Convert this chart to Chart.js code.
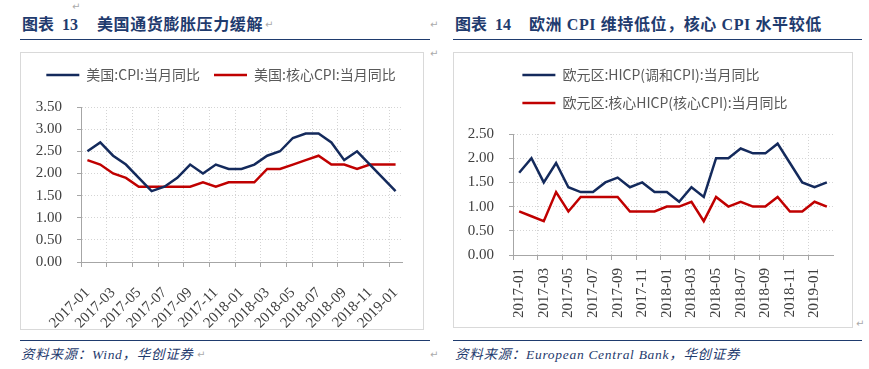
<!DOCTYPE html>
<html>
<head>
<meta charset="utf-8">
<script src="https://cdn.jsdelivr.net/npm/chart.js@4.4.1/dist/chart.umd.min.js"></script>
<style>
  body { margin: 0; width: 869px; height: 369px; background: #fff; position: relative; overflow: hidden; }
  .abs { position: absolute; white-space: nowrap; }
  .hd { font-weight: bold; font-size: 16px; color: #1f3b6e; font-family: "Liberation Serif", "Noto Sans CJK SC", serif; line-height: 20px; }
  .rule { position: absolute; height: 0; border-top: 1.5px solid #1f3b6e; }
  .box { position: absolute; border: 1px solid #d9d9d9; box-sizing: border-box; }
  .src { font-style: italic; font-size: 13.5px; letter-spacing: 0.7px; color: #1f3b6e; font-family: "Liberation Serif", "Noto Sans CJK SC", serif; line-height: 16px; }
  .mk { font-size: 10px; color: #aaa; font-family: "DejaVu Sans"; }
  canvas { position: absolute; }
</style>
</head>
<body>
  <span class="abs mk" style="left:72px;top:1px">↵</span>

  <!-- left panel -->
  <span class="abs hd" style="left:22px;top:15px">图表</span>
  <span class="abs hd" style="left:62px;top:15px">13</span>
  <span class="abs hd" style="left:97px;top:15px;letter-spacing:0.6px">美国通货膨胀压力缓解</span>
  <span class="abs mk" style="left:265px;top:19px">↵</span>
  <span class="abs mk" style="left:430px;top:19px">↵</span>
  <div class="rule" style="left:20px;top:39px;width:410px"></div>
  <div class="box" style="left:20px;top:52px;width:404px;height:278px"></div>
  <canvas id="usChart" width="403" height="277" style="left:20px;top:52px"></canvas>
  <span class="abs mk" style="left:430px;top:48px">↵</span>
  <div class="rule" style="left:20px;top:340px;width:410px"></div>
  <span class="abs src" style="left:21px;top:347px">资料来源：Wind，华创证券</span>
  <span class="abs mk" style="left:197px;top:349px">↵</span>
  <span class="abs mk" style="left:430px;top:349px">↵</span>

  <!-- right panel -->
  <span class="abs hd" style="left:455px;top:15px">图表</span>
  <span class="abs hd" style="left:495px;top:15px">14</span>
  <span class="abs hd" style="left:529px;top:15px;letter-spacing:0.6px">欧洲 CPI 维持低位，核心 CPI 水平较低</span>
  <div class="rule" style="left:453px;top:39px;width:409px"></div>
  <div class="box" style="left:453px;top:52px;width:400px;height:276px"></div>
  <canvas id="euChart" width="399" height="275" style="left:453px;top:52px"></canvas>
  <span class="abs mk" style="left:856px;top:318px">↵</span>
  <div class="rule" style="left:453px;top:340px;width:409px"></div>
  <span class="abs src" style="left:455px;top:347px">资料来源：European Central Bank，华创证券</span>

<script>
// US: 2017-01 .. 2019-01
const usMonths = [
  "2017-01", "2017-02", "2017-03", "2017-04", "2017-05", "2017-06", "2017-07", "2017-08", "2017-09",
  "2017-10", "2017-11", "2017-12", "2018-01", "2018-02", "2018-03", "2018-04", "2018-05", "2018-06",
  "2018-07", "2018-08", "2018-09", "2018-10", "2018-11", "2018-12", "2019-01"
];
const usCpi = [2.5, 2.7, 2.4, 2.2, 1.9, 1.6, 1.7, 1.9, 2.2, 2.0, 2.2, 2.1, 2.1, 2.2, 2.4, 2.5, 2.8, 2.9, 2.9, 2.7, 2.3, 2.5, 2.2, 1.9, 1.6];
const usCore = [2.3, 2.2, 2.0, 1.9, 1.7, 1.7, 1.7, 1.7, 1.7, 1.8, 1.7, 1.8, 1.8, 1.8, 2.1, 2.1, 2.2, 2.3, 2.4, 2.2, 2.2, 2.1, 2.2, 2.2, 2.2];

// Euro area: 2017-01 .. 2019-02
const euMonths = [
  "2017-01", "2017-02", "2017-03", "2017-04", "2017-05", "2017-06", "2017-07", "2017-08", "2017-09",
  "2017-10", "2017-11", "2017-12", "2018-01", "2018-02", "2018-03", "2018-04", "2018-05", "2018-06",
  "2018-07", "2018-08", "2018-09", "2018-10", "2018-11", "2018-12", "2019-01", "2019-02"
];
const euHicp = [1.7, 2.0, 1.5, 1.9, 1.4, 1.3, 1.3, 1.5, 1.6, 1.4, 1.5, 1.3, 1.3, 1.1, 1.4, 1.2, 2.0, 2.0, 2.2, 2.1, 2.1, 2.3, 1.9, 1.5, 1.4, 1.5];
const euCore = [0.9, 0.8, 0.7, 1.3, 0.9, 1.2, 1.2, 1.2, 1.2, 0.9, 0.9, 0.9, 1.0, 1.0, 1.1, 0.7, 1.2, 1.0, 1.1, 1.0, 1.0, 1.2, 0.9, 0.9, 1.1, 1.0];

const usYMax = 3.5;
const euYMax = 2.5;
const yStep = 0.5;
const labelEvery = 2;

const NAVY = "#142a5c";
const RED = "#c00000";
const AXIS = "#a6a6a6";
const GRID = "#d4d4d4";

// legend rows start at the same x; whole legend nudged right a bit
const legendRows = {
  id: "legendRows",
  afterLayout(chart, args, opts) {
    const lg = chart.legend;
    if (!lg || !lg.lineWidths) return;
    const m = Math.max(...lg.lineWidths);
    lg.lineWidths = lg.lineWidths.map(() => m);
    lg.left += opts.shift || 0;
    lg.right += opts.shift || 0;
  }
};

function buildConfig(months, series, yMax, box) {
  return {
    type: "line",
    data: {
      labels: months,
      datasets: series.map(s => ({
        label: s.label,
        data: s.data,
        borderColor: s.color,
        backgroundColor: s.color,
        borderWidth: 2.5,
        pointRadius: 0,
        tension: 0,
        fill: false
      }))
    },
    options: {
      responsive: false,
      animation: false,
      events: [],
      layout: { padding: { top: 2, right: box.right, left: 0, bottom: 0 } },
      plugins: {
        tooltip: { enabled: false },
        legendRows: { shift: box.shift },
        // empty title used only as a gap between legend and plot
        title: {
          display: true,
          text: "",
          position: "top",
          weight: 500,
          font: { size: 1, lineHeight: 1 },
          padding: { top: 0, bottom: box.gap }
        },
        legend: {
          position: "top",
          labels: {
            usePointStyle: true,
            pointStyle: "line",
            pointStyleWidth: 33,
            padding: 14,
            color: "#595959",
            font: { family: '"Noto Sans CJK SC"', size: 14 }
          }
        }
      },
      scales: {
        x: {
          offset: true,
          grid: {
            offset: true,
            color: c => (c.index % labelEvery === 0 ? GRID : "rgba(0,0,0,0)"),
            tickColor: c => (c.index % labelEvery === 0 ? AXIS : "rgba(0,0,0,0)"),
            tickLength: 5
          },
          border: { display: true, color: AXIS, width: 1, dash: [1, 2] },
          ticks: {
            autoSkip: false,
            minRotation: box.rot,
            maxRotation: box.rot,
            padding: box.xPad,
            color: "#404040",
            font: { family: '"Liberation Serif"', size: 15 },
            callback: function (v, i) { return i % labelEvery === 0 ? this.getLabelForValue(v) : ""; }
          },
          afterFit: s => { s.height = box.xHeight; s.paddingLeft = 0; s.paddingRight = 0; }
        },
        y: {
          min: 0,
          max: yMax,
          grid: { color: GRID, tickColor: AXIS, tickLength: 4 },
          border: { display: true, color: AXIS, width: 1, dash: [1, 2] },
          ticks: {
            stepSize: yStep,
            padding: 15,
            color: "#404040",
            font: { family: '"Liberation Serif"', size: 15 },
            callback: v => v.toFixed(2)
          },
          afterFit: s => { s.width = box.yWidth; s.paddingTop = 0; s.paddingBottom = 0; }
        }
      }
    },
    plugins: [legendRows]
  };
}

new Chart(document.getElementById("usChart").getContext("2d"), buildConfig(
  usMonths,
  [
    { label: "美国:CPI:当月同比", data: usCpi, color: NAVY },
    { label: "美国:核心CPI:当月同比", data: usCore, color: RED }
  ],
  usYMax,
  { right: 21, rot: 45, xPad: 17, xHeight: 67, yWidth: 61, gap: 14, shift: 10 }
));

new Chart(document.getElementById("euChart").getContext("2d"), buildConfig(
  euMonths,
  [
    { label: "欧元区:HICP(调和CPI):当月同比", data: euHicp, color: NAVY },
    { label: "欧元区:核心HICP(核心CPI):当月同比", data: euCore, color: RED }
  ],
  euYMax,
  { right: 19, rot: 90, xPad: 8, xHeight: 72, yWidth: 60, gap: 13, shift: 12 }
));
</script>
</body>
</html>
